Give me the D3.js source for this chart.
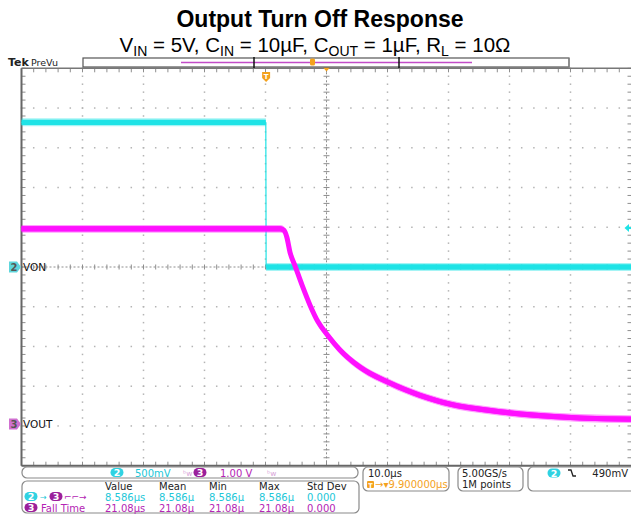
<!DOCTYPE html>
<html>
<head>
<meta charset="utf-8">
<script src="https://cdn.jsdelivr.net/npm/d3@7"></script>
<style>
  html, body { margin: 0; padding: 0; background: #fff; }
  svg { display: block; }
  .scope { font-family: "DejaVu Sans", sans-serif; }
</style>
</head>
<body>
<svg id="chart" width="631" height="519"></svg>
<script>
// ---- Captured waveforms (time in µs relative to trigger, volts) ----
const vonTime  = [-40.1, -0.05, 0.0, 59.9];
const vonVolts = [1.82, 1.82, 0.0, 0.0];

const voutTime  = [-40.1, 2.3, 2.9, 3.4, 3.92, 4.74, 5.88, 7.20, 8.51, 10.15, 12.11, 15.39, 20.31, 25.23, 30.15, 36.21, 43.26, 51.46, 59.9];
const voutVolts = [4.91, 4.91, 4.88, 4.70, 4.32, 3.98, 3.50, 2.99, 2.57, 2.22, 1.86, 1.43, 1.03, 0.72, 0.50, 0.35, 0.23, 0.15, 0.12];

// ---- Scope settings ----
const timePerDiv = 10;        // µs/div
const horizPos = 9.9;         // µs, trigger to screen centre
const vonScale = 0.5;         // V/div, channel 2
const voutScale = 1.0;        // V/div, channel 3
const vonOffsetDiv = 0.0;     // ground position (div from centre)
const voutOffsetDiv = -3.95;
const trigLevel = 0.49;       // V on channel 2

// ---- Readouts ----
const measHeaders = ["Value", "Mean", "Min", "Max", "Std Dev"];
const delayRow = ["8.586µs", "8.586µ", "8.586µ", "8.586µ", "0.000"];
const fallRow  = ["21.08µs", "21.08µ", "21.08µ", "21.08µ", "0.000"];

const svg = d3.select("#chart");
const CYAN = "#1fe3e6", CYAN_TXT = "#22c7d8", MAG = "#ff10ff", MAG_TXT = "#b424b4", ORANGE = "#f4a21d";

// ---- Title ----
svg.append("text").attr("x", 320).attr("y", 26.5).attr("text-anchor", "middle")
  .attr("font-family", "Liberation Sans, Arial, sans-serif").attr("font-weight", "bold")
  .attr("font-size", 23).text("Output Turn Off Response");

const sub = svg.append("text").attr("x", 315).attr("y", 52).attr("text-anchor", "middle")
  .attr("font-family", "Liberation Sans, Arial, sans-serif").attr("font-size", 20.5);
const subParts = [["V",0],["IN",1],[" = 5V, C",0],["IN",1],[" = 10µF, C",0],["OUT",1],[" = 1µF, R",0],["L",1],[" = 10Ω",0]];
subParts.forEach(([t, s], i) => {
  const prev = i > 0 ? subParts[i - 1] : null;
  const ts = sub.append("tspan").text(t).attr("dy", s ? 4 : (prev && prev[1] ? -4 : 0));
  if (s) ts.attr("font-size", 14);
});

// ---- Graticule geometry ----
const L = 21.5, R = 631.5, T = 68.3, B = 465.7;
const gx = d3.scaleLinear().domain([0, 10]).range([L, R]);
const gy = d3.scaleLinear().domain([0, 10]).range([T, B]);
const x = d3.scaleLinear().domain([horizPos - 5 * timePerDiv, horizPos + 5 * timePerDiv]).range([L, R]);
const yVon = d3.scaleLinear().domain([(-5 - vonOffsetDiv) * vonScale, (5 - vonOffsetDiv) * vonScale]).range([B, T]);
const yVout = d3.scaleLinear().domain([(-5 - voutOffsetDiv) * voutScale, (5 - voutOffsetDiv) * voutScale]).range([B, T]);

const grid = svg.append("g");
const steps = d3.range(0, 50.01, 1).map(d => d / 5);
const DOT = "#b4b4b4", TICK = "#8e8e8e";

// dotted division lines
for (let k = 1; k < 10; k++) {
  if (k === 5) continue;
  grid.selectAll(null).data(steps).join("rect")
    .attr("x", d => gx(d) - 0.75).attr("y", gy(k) - 0.75).attr("width", 1.5).attr("height", 1.5).attr("fill", DOT);
  grid.selectAll(null).data(steps).join("rect")
    .attr("x", gx(k) - 0.75).attr("y", d => gy(d) - 0.75).attr("width", 1.5).attr("height", 1.5).attr("fill", DOT);
}
// centre lines with minor ticks
grid.append("line").attr("x1", L).attr("x2", R).attr("y1", gy(5)).attr("y2", gy(5))
  .attr("stroke", TICK).attr("stroke-width", 1).attr("stroke-dasharray", "2,2");
grid.append("line").attr("x1", gx(5)).attr("x2", gx(5)).attr("y1", T).attr("y2", B)
  .attr("stroke", TICK).attr("stroke-width", 1).attr("stroke-dasharray", "2,2");
grid.selectAll(null).data(steps).join("line")
  .attr("x1", d => gx(d)).attr("x2", d => gx(d)).attr("y1", gy(5) - 2.5).attr("y2", gy(5) + 2.5).attr("stroke", TICK);
grid.selectAll(null).data(steps).join("line")
  .attr("y1", d => gy(d)).attr("y2", d => gy(d)).attr("x1", gx(5) - 3).attr("x2", gx(5) + 3).attr("stroke", TICK);
// frame ticks
grid.selectAll(null).data(steps).join("line")
  .attr("x1", d => gx(d)).attr("x2", d => gx(d)).attr("y1", T).attr("y2", T + 4).attr("stroke", TICK);
grid.selectAll(null).data(steps).join("line")
  .attr("x1", d => gx(d)).attr("x2", d => gx(d)).attr("y1", B - 4).attr("y2", B).attr("stroke", TICK);
grid.selectAll(null).data(steps).join("line")
  .attr("y1", d => gy(d)).attr("y2", d => gy(d)).attr("x1", L).attr("x2", L + 4).attr("stroke", TICK);
grid.selectAll(null).data(steps).join("line")
  .attr("y1", d => gy(d)).attr("y2", d => gy(d)).attr("x1", R - 4).attr("x2", R).attr("stroke", TICK);
// frame
grid.append("line").attr("x1", L).attr("x2", R).attr("y1", T).attr("y2", T).attr("stroke", "#777").attr("stroke-width", 1.5);
grid.append("line").attr("x1", L).attr("x2", R).attr("y1", B).attr("y2", B).attr("stroke", "#666").attr("stroke-width", 2);
grid.append("line").attr("x1", L).attr("x2", L).attr("y1", T).attr("y2", B).attr("stroke", "#666").attr("stroke-width", 2);

// ---- Traces ----
// band: vertical noise envelope; width: stroke width of the trace core
function drawTrace(times, volts, yS, color, half, width, curve) {
  const pts = times.map((t, i) => [t, volts[i]]);
  const g = svg.append("g");
  g.append("path").datum(pts)
    .attr("d", d3.area().curve(curve).x(d => x(d[0])).y0(d => yS(d[1]) - half - 1.3).y1(d => yS(d[1]) + half + 1.3))
    .attr("fill", color).attr("opacity", 0.4);
  g.append("path").datum(pts)
    .attr("d", d3.area().curve(curve).x(d => x(d[0])).y0(d => yS(d[1]) - half).y1(d => yS(d[1]) + half))
    .attr("fill", color);
  g.append("path").datum(pts)
    .attr("d", d3.line().curve(curve).x(d => x(d[0])).y(d => yS(d[1])))
    .attr("fill", "none").attr("stroke", color).attr("stroke-width", width)
    .attr("stroke-linejoin", "round").attr("stroke-linecap", "butt");
}
drawTrace(vonTime, vonVolts, yVon, CYAN, 2.7, 1.2, d3.curveLinear);
drawTrace(voutTime, voutVolts, yVout, MAG, 2.6, 5, d3.curveMonotoneX);

// ---- Ground markers ----
function groundMarker(yPix, fill, num, label) {
  const g = svg.append("g").attr("transform", `translate(0,${yPix})`);
  g.append("path").attr("d", "M9,-5.5 H17 L21,0 L17,5.5 H9 Z").attr("fill", fill);
  g.append("text").attr("x", 14).attr("y", 4).attr("text-anchor", "middle")
    .attr("class", "scope").attr("font-size", 10).attr("font-weight", "bold").attr("fill", "#555").text(num);
  g.append("text").attr("x", 23).attr("y", 4).attr("class", "scope").attr("font-size", 10.5).attr("fill", "#111").text(label);
}
groundMarker(yVon(0), "#5fd6dc", "2", "VON");
groundMarker(yVout(0), "#d070d0", "3", "VOUT");

// trigger level arrow
svg.append("path").attr("d", `M${R - 7},${yVon(trigLevel)} l4.5,-4 v8 Z`).attr("fill", CYAN);
svg.append("line").attr("x1", R - 3).attr("x2", R).attr("y1", yVon(trigLevel)).attr("y2", yVon(trigLevel)).attr("stroke", CYAN).attr("stroke-width", 2);

// trigger position marker
const tX = x(0);
svg.append("path").attr("d", `M${tX - 4},72 h8 v6 l-4,4 l-4,-4 Z`).attr("fill", ORANGE);
svg.append("text").attr("x", tX).attr("y", 79).attr("text-anchor", "middle").attr("class", "scope")
  .attr("font-size", 7).attr("font-weight", "bold").attr("fill", "#fff").text("T");
// expansion point marker
svg.append("path").attr("d", `M${gx(5) - 3.5},67.5 h7 l-3.5,4 Z`).attr("fill", ORANGE);

// ---- Record view bar ----
svg.append("text").attr("x", 8).attr("y", 66).attr("class", "scope").attr("font-size", 11).attr("font-weight", "bold").attr("fill", "#222").text("Tek");
svg.append("text").attr("x", 31).attr("y", 65.5).attr("class", "scope").attr("font-size", 9.5).attr("fill", "#222").text("PreVu");
svg.append("rect").attr("x", 83).attr("y", 58).attr("width", 486).attr("height", 9).attr("fill", "#fff").attr("stroke", "#555").attr("stroke-width", 1.2);
svg.append("line").attr("x1", 181).attr("x2", 472).attr("y1", 62.5).attr("y2", 62.5).attr("stroke", "#c24cc8").attr("stroke-width", 1.3);
[254, 399].forEach(px => svg.append("line").attr("x1", px).attr("x2", px).attr("y1", 57).attr("y2", 68).attr("stroke", "#111").attr("stroke-width", 1.5));
svg.append("rect").attr("x", 310).attr("y", 58.5).attr("width", 5).attr("height", 7).attr("rx", 1.5).attr("fill", ORANGE);
svg.append("line").attr("x1", 569).attr("x2", 569).attr("y1", 58).attr("y2", T).attr("stroke", "#888").attr("stroke-width", 1.2);

// ---- Readout panels ----
function panel(x0, y0, w, h) {
  svg.append("rect").attr("x", x0).attr("y", y0).attr("width", w).attr("height", h).attr("rx", 5)
    .attr("fill", "#fff").attr("stroke", "#8a8a8a").attr("stroke-width", 1.2);
}
function pill(cx, cy, fill, num) {
  svg.append("rect").attr("x", cx - 6.5).attr("y", cy - 4.5).attr("width", 13).attr("height", 9).attr("rx", 4.5).attr("fill", fill);
  svg.append("text").attr("x", cx).attr("y", cy + 3.5).attr("text-anchor", "middle").attr("class", "scope")
    .attr("font-size", 9.5).attr("font-weight", "bold").attr("fill", "#fff").text(num);
}
function txt(x0, y0, s, color, size, anchor) {
  return svg.append("text").attr("x", x0).attr("y", y0).attr("class", "scope").attr("font-size", size || 10.5)
    .attr("fill", color).attr("text-anchor", anchor || "start").text(s);
}

panel(22, 467, 336, 11);
pill(117, 472.5, "#2fd2e2", "2");
txt(135, 476.5, "500mV", CYAN_TXT, 10);
txt(183, 475.5, "ᵇw", "#d9a6d9", 7.5);
pill(200, 472.5, "#9b1f9b", "3");
txt(220, 476.5, "1.00 V", MAG_TXT, 10);
txt(267, 475.5, "ᵇw", "#d9a6d9", 7.5);

panel(22, 481, 337, 32);
const colX = [105, 159, 209, 259, 307];
measHeaders.forEach((h, i) => txt(colX[i], 490, h, "#222", 10));
delayRow.forEach((v, i) => txt(colX[i], 500.5, v, CYAN_TXT, 10));
fallRow.forEach((v, i) => txt(colX[i], 511.5, v, MAG_TXT, 10));
pill(31, 496.5, "#2fd2e2", "2");
txt(40, 499.5, "→", CYAN_TXT, 8);
pill(56, 496.5, "#9b1f9b", "3");
txt(64, 500, "⌐⌐→", MAG_TXT, 9);
pill(31, 507.5, "#9b1f9b", "3");
txt(41, 511.5, "Fall Time", MAG_TXT, 10);

panel(363, 467, 86, 24);
txt(368, 477, "10.0µs", "#222", 10);
svg.append("rect").attr("x", 367).attr("y", 481).attr("width", 7).attr("height", 7).attr("rx", 1).attr("fill", ORANGE);
txt(370.5, 487.5, "T", "#fff", 6.5, "middle").attr("font-weight", "bold");
txt(375, 488, "→▾9.900000µs", ORANGE, 10);

panel(458, 467, 65, 24);
txt(462, 477, "5.00GS/s", "#222", 10);
txt(462, 488, "1M points", "#222", 10);

panel(528, 467, 110, 24);
pill(554, 473, "#2fd2e2", "2");
svg.append("path").attr("d", "M568,470 h3 l2,6 h3").attr("fill", "none").attr("stroke", "#222").attr("stroke-width", 1.3);
txt(628, 477, "490mV", "#222", 10, "end");
</script>
</body>
</html>
